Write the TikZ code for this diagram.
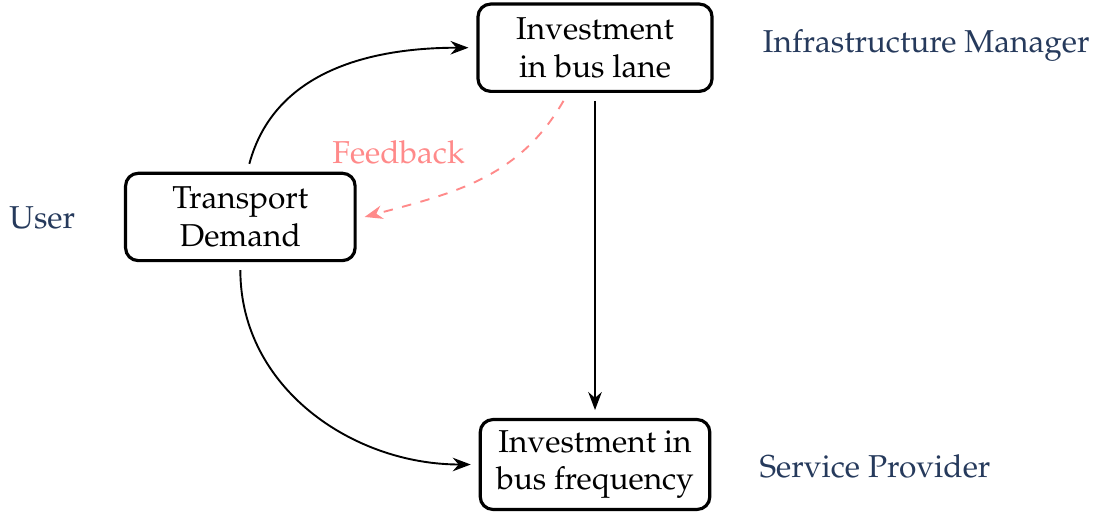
\documentclass[tikz,border=0pt]{standalone}
\usepackage[T1]{fontenc}
\usepackage{mathpazo}
\usepackage{xcolor}
\usetikzlibrary{positioning,arrows.meta}
\definecolor{rolecol}{RGB}{38,58,92}
\definecolor{fbcol}{RGB}{255,138,138}

\begin{document}
\begin{tikzpicture}[
  act/.style={draw, line width=1pt, rounded corners=4pt, minimum width=2.6cm, minimum height=0.97cm, align=center, outer sep=3pt},
  role/.style={text=rolecol, font=\normalsize},
  arrow/.style={-{Stealth[length=2mm]}, semithick},
  fb/.style={-{Stealth[length=2mm]}, semithick, dashed, fbcol}
]
\useasboundingbox (0,0) rectangle (12.22,-5.71);
\node[act] (lane) at (6.61,-0.53) {Investment\\in bus lane};
\node[act, minimum width=2.55cm] (demand) at (2.67,-2.41) {Transport\\Demand};
\node[act, minimum width=2.55cm] (freq) at (6.61,-5.16) {Investment in\\bus frequency};
\node[role] (infra) at (10.29,-0.5) {Infrastructure Manager};
\node[role] (user) at (0.47,-2.42) {User};
\node[role] (provider) at (9.72,-5.18) {Service Provider};
\draw[arrow] ([xshift=1mm]demand.north) to[out=75,in=180] (lane.west);
\draw[arrow] (demand.south) to[out=-90,in=180] (freq.west);
\draw[arrow] (lane.south) -- (freq.north);
\draw[fb] ([xshift=-3.5mm]lane.south) to[out=-120,in=15] node[pos=0.45,above left=-0.2mm and 1.5mm,text=fbcol]{Feedback} (demand.east);
\end{tikzpicture}
\end{document}
